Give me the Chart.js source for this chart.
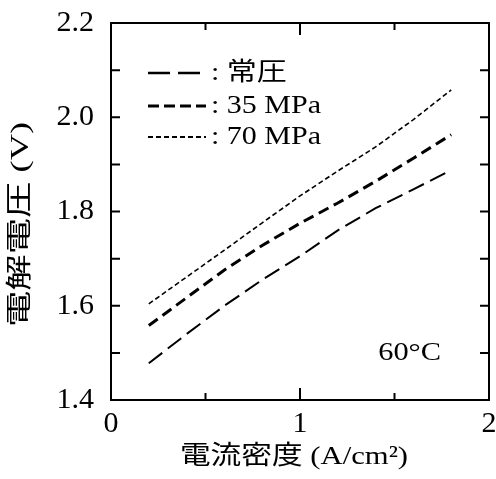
<!DOCTYPE html>
<html><head><meta charset="utf-8">
<script src="https://cdn.jsdelivr.net/npm/chart.js@4"></script>
<style>html,body{margin:0;padding:0;background:#fff}#wrap{width:496px;height:479px}</style>
</head><body><div id="wrap"><canvas id="c" width="496" height="479"></canvas></div>
<script>
const currentDensity = [0.2, 0.4, 0.6, 0.8, 1.0, 1.2, 1.4, 1.6, 1.8];
const voltageAtm = [1.478, 1.540, 1.600, 1.655, 1.705, 1.760, 1.807, 1.847, 1.888];
const voltage35 = [1.558, 1.617, 1.676, 1.728, 1.775, 1.818, 1.864, 1.913, 1.963];
const voltage70 = [1.604, 1.661, 1.718, 1.776, 1.833, 1.886, 1.937, 1.995, 2.058];
const seriesNames = ['常圧', '35 MPa', '70 MPa'];
const xTicksMajor = [0, 1, 2];
const xTicksMinor = [0.5, 1.5];
const yTicks = [1.4, 1.5, 1.6, 1.7, 1.8, 1.9, 2.0, 2.1, 2.2];
const xTitle = '電流密度 (A/cm²)';
const yTitle = '電解電圧 (V)';
const tempLabel = '60°C';

const SERIF = "'Liberation Serif', 'Noto Sans CJK JP', serif";
const dashes = [[17, 7], [11, 6], [5, 3]];
const widths = [2, 3, 1.6];
const legendDashes = [[22, 8], [11, 5], [5, 3]];
const legendWidths = [2.5, 3, 2];

function pts(ys) { return currentDensity.map((x, i) => ({x, y: ys[i]})); }

function drawStretched(ctx, text, x, y, size, sx, align, rot) {
  ctx.save();
  ctx.translate(x, y);
  if (rot) ctx.rotate(rot);
  ctx.scale(sx, 1);
  ctx.font = size + 'px ' + SERIF;
  ctx.textAlign = align;
  ctx.textBaseline = 'middle';
  ctx.fillStyle = '#000';
  ctx.fillText(text, 0, 0);
  ctx.restore();
}

const framePlugin = {
  id: 'frame',
  afterDraw(chart) {
    const {ctx, chartArea: a, scales: {x, y}} = chart;
    ctx.save();
    ctx.strokeStyle = '#000';
    ctx.lineWidth = 2;
    ctx.strokeRect(a.left, a.top, a.right - a.left, a.bottom - a.top);
    ctx.beginPath();
    xTicksMajor.forEach(v => {
      const px = x.getPixelForValue(v);
      ctx.moveTo(px, a.bottom); ctx.lineTo(px, a.bottom - 12);
      ctx.moveTo(px, a.top); ctx.lineTo(px, a.top + 12);
    });
    xTicksMinor.forEach(v => {
      const px = x.getPixelForValue(v);
      ctx.moveTo(px, a.bottom); ctx.lineTo(px, a.bottom - 7);
      ctx.moveTo(px, a.top); ctx.lineTo(px, a.top + 7);
    });
    yTicks.forEach(v => {
      const py = y.getPixelForValue(v);
      ctx.moveTo(a.left, py); ctx.lineTo(a.left + 9, py);
      ctx.moveTo(a.right, py); ctx.lineTo(a.right - 9, py);
    });
    ctx.stroke();

    // legend
    const rows = [73, 106, 137];
    seriesNames.forEach((name, i) => {
      ctx.beginPath();
      ctx.setLineDash(legendDashes[i]);
      ctx.lineWidth = legendWidths[i];
      ctx.moveTo(148, rows[i]); ctx.lineTo(206, rows[i]);
      ctx.stroke();
      ctx.setLineDash([]);
      drawStretched(ctx, ': ' + name, 211, rows[i], 25, 1.2, 'left', 0);
    });
    // temperature label
    drawStretched(ctx, tempLabel, x.getPixelForValue(1.58), y.getPixelForValue(1.5), 26, 1.17, 'center', 0);
    // axis titles
    drawStretched(ctx, xTitle, (a.left + a.right) / 2 - 6, 457, 26, 1.18, 'center', 0);
    drawStretched(ctx, yTitle, 21, (a.top + a.bottom) / 2 + 13, 26, 1.4, 'center', -Math.PI / 2);
    ctx.restore();
  }
};

new Chart(document.getElementById('c'), {
  type: 'line',
  data: {
    datasets: [voltageAtm, voltage35, voltage70].map((d, i) => ({
      label: seriesNames[i],
      data: pts(d),
      borderColor: '#000',
      borderWidth: widths[i],
      borderDash: dashes[i],
      pointRadius: 0,
      fill: false,
      tension: 0
    }))
  },
  options: {
    responsive: false,
    animation: false,
    layout: {padding: {top: 23, right: 7, left: 0, bottom: 0}},
    plugins: {legend: {display: false}, tooltip: {enabled: false}},
    scales: {
      x: {
        type: 'linear', min: 0, max: 2,
        grid: {display: false, drawTicks: false},
        border: {display: false},
        afterBuildTicks(s) { s.ticks = xTicksMajor.map(v => ({value: v})); },
        afterFit(s) { s.height = 79; s.paddingLeft = 0; s.paddingRight = 0; },
        ticks: {color: '#000', padding: 6, font: {family: SERIF, size: 30}, maxRotation: 0, callback: v => String(v)},
        title: {display: false}
      },
      y: {
        type: 'linear', min: 1.4, max: 2.2,
        grid: {display: false, drawTicks: false},
        border: {display: false},
        afterBuildTicks(s) { s.ticks = yTicks.filter((v, i) => i % 2 === 0).map(v => ({value: v})); },
        afterFit(s) { s.width = 111; s.paddingTop = 0; s.paddingBottom = 0; },
        ticks: {color: '#000', padding: 17, font: {family: SERIF, size: 30}, callback: v => Number(v).toFixed(1)},
        title: {display: false}
      }
    }
  },
  plugins: [framePlugin]
});
</script>
</body></html>
